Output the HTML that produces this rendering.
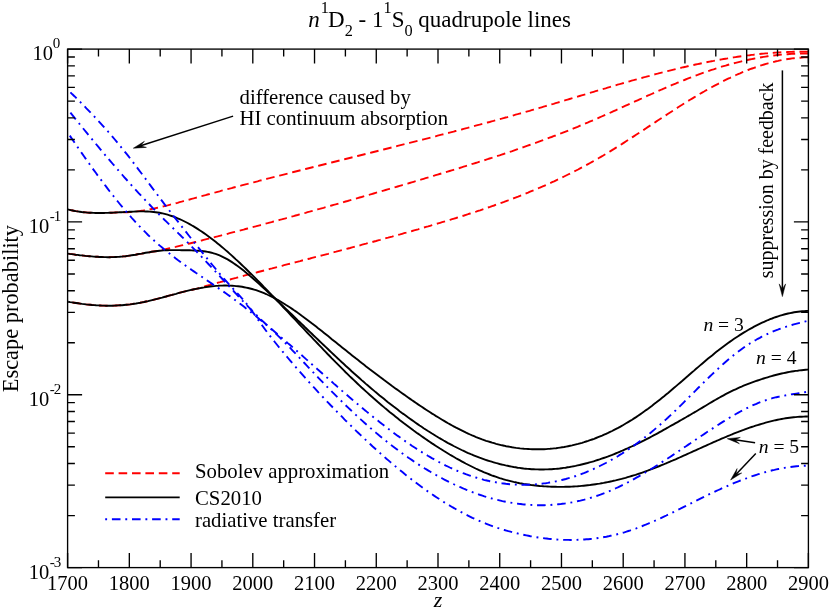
<!DOCTYPE html>
<html><head><meta charset="utf-8"><title>Escape probability</title>
<style>
html,body{margin:0;padding:0;background:#fff;}
body{width:830px;height:611px;overflow:hidden;}
svg{display:block;transform:translateZ(0);will-change:transform;}
text{font-family:"Liberation Serif",serif;fill:#000;}
.i{font-style:italic;}
</style></head><body>
<svg width="830" height="611" viewBox="0 0 830 611">
<rect x="0" y="0" width="830" height="611" fill="#fff"/>
<defs><clipPath id="c"><rect x="67.6" y="49.1" width="741.8" height="518.5"/></clipPath></defs>

<g fill="none" stroke-width="1.9" clip-path="url(#c)">
<path d="M67.6,209.3 L69.6,209.8 L71.6,210.3 L73.6,210.7 L75.6,211.1 L77.6,211.4 L79.6,211.7 L81.6,212.0 L83.6,212.2 L85.6,212.4 L87.6,212.6 L89.6,212.7 L91.6,212.8 L93.6,212.9 L95.6,213.0 L97.6,213.0 L99.6,213.0 L101.6,213.0 L103.6,213.0 L105.6,212.9 L107.6,212.9 L109.6,212.8 L111.6,212.7 L113.6,212.6 L115.6,212.5 L117.6,212.4 L119.6,212.3 L121.6,212.3 L123.6,212.3 L125.6,212.2 L127.6,212.2 L129.6,212.1 L131.6,212.0 L133.6,211.9 L135.6,211.7 L137.6,211.4 L139.6,211.1 L141.6,210.8 L143.6,210.5 L145.6,210.1 L147.6,209.8 L149.6,209.4 L151.6,209.0 L153.6,208.6 L155.6,208.1 L157.6,207.7 L159.6,207.3 L161.6,206.8 L163.6,206.3 L165.6,205.8 L167.6,205.4 L169.6,204.8 L171.6,204.3 L173.6,203.8 L175.6,203.3 L177.6,202.8 L179.6,202.2 L181.6,201.7 L183.6,201.1 L185.6,200.6 L187.6,200.0 L189.6,199.5 L191.6,198.9 L193.6,198.4 L195.6,197.8 L197.6,197.3 L199.6,196.7 L201.6,196.2 L203.6,195.6 L205.6,195.1 L207.6,194.5 L209.6,194.0 L211.6,193.4 L213.6,192.9 L215.6,192.4 L217.6,191.8 L219.6,191.3 L221.6,190.7 L223.6,190.2 L225.6,189.7 L227.6,189.1 L229.6,188.6 L231.6,188.1 L233.6,187.5 L235.6,187.0 L237.6,186.5 L239.6,186.0 L241.6,185.4 L243.6,184.9 L245.6,184.4 L247.6,183.9 L249.6,183.3 L251.6,182.8 L253.6,182.3 L255.6,181.8 L257.6,181.3 L259.6,180.7 L261.6,180.2 L263.6,179.7 L265.6,179.2 L267.6,178.7 L269.6,178.2 L271.6,177.6 L273.6,177.1 L275.6,176.6 L277.6,176.1 L279.6,175.6 L281.6,175.1 L283.6,174.6 L285.6,174.1 L287.6,173.6 L289.6,173.0 L291.6,172.5 L293.6,172.0 L295.6,171.5 L297.6,171.0 L299.6,170.5 L301.6,170.0 L303.6,169.5 L305.6,169.0 L307.6,168.5 L309.6,168.0 L311.6,167.5 L313.6,167.0 L315.6,166.5 L317.6,166.0 L319.6,165.5 L321.6,165.0 L323.6,164.5 L325.6,164.0 L327.6,163.5 L329.6,163.0 L331.6,162.5 L333.6,162.0 L335.6,161.5 L337.6,161.0 L339.6,160.5 L341.6,160.0 L343.6,159.5 L345.6,159.0 L347.6,158.5 L349.6,158.0 L351.6,157.5 L353.6,157.0 L355.6,156.5 L357.6,156.0 L359.6,155.5 L361.6,155.0 L363.6,154.5 L365.6,154.0 L367.6,153.5 L369.6,153.0 L371.6,152.5 L373.6,152.0 L375.6,151.5 L377.6,151.0 L379.6,150.5 L381.6,150.0 L383.6,149.5 L385.6,149.0 L387.6,148.5 L389.6,148.0 L391.6,147.5 L393.6,147.0 L395.6,146.5 L397.6,145.9 L399.6,145.4 L401.6,144.9 L403.6,144.4 L405.6,143.9 L407.6,143.4 L409.6,142.9 L411.6,142.4 L413.6,141.9 L415.6,141.4 L417.6,140.9 L419.6,140.4 L421.6,139.9 L423.6,139.3 L425.6,138.8 L427.6,138.3 L429.6,137.8 L431.6,137.3 L433.6,136.8 L435.6,136.3 L437.6,135.7 L439.6,135.2 L441.6,134.7 L443.6,134.2 L445.6,133.7 L447.6,133.1 L449.6,132.6 L451.6,132.1 L453.6,131.6 L455.6,131.0 L457.6,130.5 L459.6,130.0 L461.6,129.5 L463.6,128.9 L465.6,128.4 L467.6,127.9 L469.6,127.3 L471.6,126.8 L473.6,126.3 L475.6,125.7 L477.6,125.2 L479.6,124.7 L481.6,124.1 L483.6,123.6 L485.6,123.0 L487.6,122.5 L489.6,122.0 L491.6,121.4 L493.6,120.9 L495.6,120.3 L497.6,119.8 L499.6,119.2 L501.6,118.7 L503.6,118.1 L505.6,117.5 L507.6,117.0 L509.6,116.4 L511.6,115.9 L513.6,115.3 L515.6,114.7 L517.6,114.2 L519.6,113.6 L521.6,113.1 L523.6,112.5 L525.6,111.9 L527.6,111.3 L529.6,110.8 L531.6,110.2 L533.6,109.6 L535.6,109.0 L537.6,108.5 L539.6,107.9 L541.6,107.3 L543.6,106.7 L545.6,106.1 L547.6,105.5 L549.6,104.9 L551.6,104.3 L553.6,103.8 L555.6,103.2 L557.6,102.6 L559.6,102.0 L561.6,101.4 L563.6,100.8 L565.6,100.2 L567.6,99.6 L569.6,99.0 L571.6,98.4 L573.6,97.8 L575.6,97.2 L577.6,96.6 L579.6,96.0 L581.6,95.4 L583.6,94.8 L585.6,94.2 L587.6,93.6 L589.6,93.0 L591.6,92.4 L593.6,91.8 L595.6,91.2 L597.6,90.6 L599.6,90.0 L601.6,89.4 L603.6,88.8 L605.6,88.3 L607.6,87.7 L609.6,87.1 L611.6,86.5 L613.6,85.9 L615.6,85.3 L617.6,84.7 L619.6,84.2 L621.6,83.6 L623.6,83.0 L625.6,82.4 L627.6,81.9 L629.6,81.3 L631.6,80.7 L633.6,80.2 L635.6,79.6 L637.6,79.1 L639.6,78.5 L641.6,78.0 L643.6,77.4 L645.6,76.9 L647.6,76.3 L649.6,75.8 L651.6,75.2 L653.6,74.7 L655.6,74.2 L657.6,73.7 L659.6,73.1 L661.6,72.6 L663.6,72.1 L665.6,71.6 L667.6,71.1 L669.6,70.6 L671.6,70.1 L673.6,69.6 L675.6,69.1 L677.6,68.6 L679.6,68.2 L681.6,67.7 L683.6,67.2 L685.6,66.8 L687.6,66.3 L689.6,65.9 L691.6,65.4 L693.6,65.0 L695.6,64.5 L697.6,64.1 L699.6,63.7 L701.6,63.3 L703.6,62.8 L705.6,62.4 L707.6,62.0 L709.6,61.6 L711.6,61.2 L713.6,60.9 L715.6,60.5 L717.6,60.1 L719.6,59.8 L721.6,59.4 L723.6,59.0 L725.6,58.7 L727.6,58.4 L729.6,58.0 L731.6,57.7 L733.6,57.4 L735.6,57.1 L737.6,56.8 L739.6,56.5 L741.6,56.2 L743.6,55.9 L745.6,55.7 L747.6,55.4 L749.6,55.2 L751.6,54.9 L753.6,54.7 L755.6,54.4 L757.6,54.2 L759.6,54.0 L761.6,53.8 L763.6,53.6 L765.6,53.4 L767.6,53.3 L769.6,53.1 L771.6,52.9 L773.6,52.8 L775.6,52.6 L777.6,52.5 L779.6,52.4 L781.6,52.3 L783.6,52.2 L785.6,52.1 L787.6,52.0 L789.6,51.9 L791.6,51.9 L793.6,51.8 L795.6,51.8 L797.6,51.7 L799.6,51.7 L801.6,51.7 L803.6,51.7 L805.6,51.7 L807.6,51.7 L808.4,51.7" stroke="#ff0000" stroke-dasharray="8.6 4.8" stroke-dashoffset="-2.1"/>
<path d="M67.6,253.6 L69.6,253.9 L71.6,254.1 L73.6,254.4 L75.6,254.7 L77.6,254.9 L79.6,255.2 L81.6,255.4 L83.6,255.6 L85.6,255.9 L87.6,256.1 L89.6,256.2 L91.6,256.4 L93.6,256.6 L95.6,256.7 L97.6,256.8 L99.6,257.0 L101.6,257.0 L103.6,257.1 L105.6,257.1 L107.6,257.2 L109.6,257.2 L111.6,257.1 L113.6,257.1 L115.6,257.0 L117.6,256.9 L119.6,256.8 L121.6,256.6 L123.6,256.4 L125.6,256.2 L127.6,255.9 L129.6,255.6 L131.6,255.3 L133.6,255.0 L135.6,254.7 L137.6,254.3 L139.6,253.9 L141.6,253.6 L143.6,253.2 L145.6,252.8 L147.6,252.5 L149.6,252.2 L151.6,251.8 L153.6,251.5 L155.6,251.2 L157.6,250.9 L159.6,250.5 L161.6,250.2 L163.6,249.7 L165.6,249.2 L167.6,248.7 L169.6,248.3 L171.6,247.8 L173.6,247.3 L175.6,246.9 L177.6,246.4 L179.6,245.9 L181.6,245.4 L183.6,245.0 L185.6,244.5 L187.6,244.0 L189.6,243.5 L191.6,243.0 L193.6,242.5 L195.6,242.0 L197.6,241.5 L199.6,241.0 L201.6,240.5 L203.6,239.9 L205.6,239.4 L207.6,238.9 L209.6,238.4 L211.6,237.9 L213.6,237.4 L215.6,236.9 L217.6,236.4 L219.6,235.8 L221.6,235.3 L223.6,234.8 L225.6,234.3 L227.6,233.8 L229.6,233.2 L231.6,232.7 L233.6,232.2 L235.6,231.7 L237.6,231.1 L239.6,230.6 L241.6,230.1 L243.6,229.6 L245.6,229.0 L247.6,228.5 L249.6,228.0 L251.6,227.4 L253.6,226.9 L255.6,226.4 L257.6,225.8 L259.6,225.3 L261.6,224.8 L263.6,224.2 L265.6,223.7 L267.6,223.2 L269.6,222.6 L271.6,222.1 L273.6,221.5 L275.6,221.0 L277.6,220.5 L279.6,219.9 L281.6,219.4 L283.6,218.8 L285.6,218.3 L287.6,217.7 L289.6,217.2 L291.6,216.6 L293.6,216.1 L295.6,215.5 L297.6,215.0 L299.6,214.4 L301.6,213.9 L303.6,213.3 L305.6,212.8 L307.6,212.2 L309.6,211.7 L311.6,211.1 L313.6,210.6 L315.6,210.0 L317.6,209.4 L319.6,208.9 L321.6,208.3 L323.6,207.8 L325.6,207.2 L327.6,206.6 L329.6,206.1 L331.6,205.5 L333.6,204.9 L335.6,204.4 L337.6,203.8 L339.6,203.2 L341.6,202.7 L343.6,202.1 L345.6,201.5 L347.6,201.0 L349.6,200.4 L351.6,199.8 L353.6,199.3 L355.6,198.7 L357.6,198.1 L359.6,197.5 L361.6,197.0 L363.6,196.4 L365.6,195.8 L367.6,195.2 L369.6,194.7 L371.6,194.1 L373.6,193.5 L375.6,192.9 L377.6,192.3 L379.6,191.8 L381.6,191.2 L383.6,190.6 L385.6,190.0 L387.6,189.4 L389.6,188.8 L391.6,188.3 L393.6,187.7 L395.6,187.1 L397.6,186.5 L399.6,185.9 L401.6,185.3 L403.6,184.7 L405.6,184.1 L407.6,183.6 L409.6,183.0 L411.6,182.4 L413.6,181.8 L415.6,181.2 L417.6,180.6 L419.6,180.0 L421.6,179.4 L423.6,178.8 L425.6,178.2 L427.6,177.6 L429.6,177.0 L431.6,176.4 L433.6,175.8 L435.6,175.2 L437.6,174.6 L439.6,174.0 L441.6,173.4 L443.6,172.8 L445.6,172.2 L447.6,171.6 L449.6,171.0 L451.6,170.4 L453.6,169.8 L455.6,169.2 L457.6,168.6 L459.6,168.0 L461.6,167.3 L463.6,166.7 L465.6,166.1 L467.6,165.5 L469.6,164.9 L471.6,164.2 L473.6,163.6 L475.6,163.0 L477.6,162.4 L479.6,161.7 L481.6,161.1 L483.6,160.5 L485.6,159.8 L487.6,159.2 L489.6,158.5 L491.6,157.9 L493.6,157.2 L495.6,156.6 L497.6,155.9 L499.6,155.3 L501.6,154.6 L503.6,154.0 L505.6,153.3 L507.6,152.6 L509.6,151.9 L511.6,151.3 L513.6,150.6 L515.6,149.9 L517.6,149.2 L519.6,148.5 L521.6,147.8 L523.6,147.1 L525.6,146.4 L527.6,145.7 L529.6,145.0 L531.6,144.3 L533.6,143.6 L535.6,142.9 L537.6,142.2 L539.6,141.4 L541.6,140.7 L543.6,140.0 L545.6,139.2 L547.6,138.5 L549.6,137.7 L551.6,137.0 L553.6,136.2 L555.6,135.5 L557.6,134.7 L559.6,133.9 L561.6,133.2 L563.6,132.4 L565.6,131.6 L567.6,130.8 L569.6,130.0 L571.6,129.2 L573.6,128.4 L575.6,127.6 L577.6,126.8 L579.6,125.9 L581.6,125.1 L583.6,124.3 L585.6,123.4 L587.6,122.6 L589.6,121.7 L591.6,120.9 L593.6,120.0 L595.6,119.2 L597.6,118.3 L599.6,117.4 L601.6,116.5 L603.6,115.6 L605.6,114.7 L607.6,113.9 L609.6,113.0 L611.6,112.1 L613.6,111.2 L615.6,110.3 L617.6,109.4 L619.6,108.4 L621.6,107.5 L623.6,106.6 L625.6,105.7 L627.6,104.8 L629.6,103.9 L631.6,103.0 L633.6,102.1 L635.6,101.2 L637.6,100.3 L639.6,99.4 L641.6,98.5 L643.6,97.5 L645.6,96.6 L647.6,95.7 L649.6,94.9 L651.6,94.0 L653.6,93.1 L655.6,92.2 L657.6,91.3 L659.6,90.4 L661.6,89.5 L663.6,88.7 L665.6,87.8 L667.6,86.9 L669.6,86.1 L671.6,85.2 L673.6,84.4 L675.6,83.6 L677.6,82.7 L679.6,81.9 L681.6,81.1 L683.6,80.3 L685.6,79.5 L687.6,78.7 L689.6,77.9 L691.6,77.1 L693.6,76.4 L695.6,75.6 L697.6,74.9 L699.6,74.1 L701.6,73.4 L703.6,72.7 L705.6,72.0 L707.6,71.3 L709.6,70.6 L711.6,69.9 L713.6,69.3 L715.6,68.6 L717.6,68.0 L719.6,67.4 L721.6,66.7 L723.6,66.1 L725.6,65.6 L727.6,65.0 L729.6,64.4 L731.6,63.9 L733.6,63.3 L735.6,62.8 L737.6,62.3 L739.6,61.8 L741.6,61.3 L743.6,60.8 L745.6,60.4 L747.6,60.0 L749.6,59.5 L751.6,59.1 L753.6,58.7 L755.6,58.3 L757.6,57.9 L759.6,57.6 L761.6,57.2 L763.6,56.9 L765.6,56.6 L767.6,56.3 L769.6,56.0 L771.6,55.8 L773.6,55.5 L775.6,55.3 L777.6,55.0 L779.6,54.8 L781.6,54.6 L783.6,54.5 L785.6,54.3 L787.6,54.2 L789.6,54.0 L791.6,53.9 L793.6,53.8 L795.6,53.7 L797.6,53.7 L799.6,53.6 L801.6,53.6 L803.6,53.6 L805.6,53.6 L807.6,53.6 L808.4,53.6" stroke="#ff0000" stroke-dasharray="8.6 4.8" stroke-dashoffset="-1.1"/>
<path d="M68.1,301.7 L70.1,302.1 L72.1,302.4 L74.1,302.7 L76.1,303.0 L78.1,303.3 L80.1,303.6 L82.1,303.9 L84.1,304.1 L86.1,304.4 L88.1,304.6 L90.1,304.8 L92.1,305.0 L94.1,305.1 L96.1,305.3 L98.1,305.4 L100.1,305.5 L102.1,305.6 L104.1,305.6 L106.1,305.7 L108.1,305.7 L110.1,305.7 L112.1,305.7 L114.1,305.6 L116.1,305.5 L118.1,305.4 L120.1,305.3 L122.1,305.2 L124.1,305.0 L126.1,304.8 L128.1,304.6 L130.1,304.4 L132.1,304.1 L134.1,303.8 L136.1,303.5 L138.1,303.1 L140.1,302.8 L142.1,302.4 L144.1,302.0 L146.1,301.5 L148.1,301.1 L150.1,300.6 L152.1,300.1 L154.1,299.6 L156.1,299.1 L158.1,298.6 L160.1,298.1 L162.1,297.6 L164.1,297.0 L166.1,296.5 L168.1,295.9 L170.1,295.4 L172.1,294.9 L174.1,294.3 L176.1,293.8 L178.1,293.2 L180.1,292.7 L182.1,292.2 L184.1,291.7 L186.1,291.2 L188.1,290.7 L190.1,290.2 L192.1,289.7 L194.1,289.3 L196.1,288.8 L198.1,288.3 L200.1,287.8 L202.1,287.2 L204.1,286.6 L206.1,286.0 L208.1,285.4 L210.1,284.9 L212.1,284.3 L214.1,283.8 L216.1,283.2 L218.1,282.7 L220.1,282.2 L222.1,281.6 L224.1,281.1 L226.1,280.5 L228.1,280.0 L230.1,279.5 L232.1,278.9 L234.1,278.4 L236.1,277.9 L238.1,277.3 L240.1,276.8 L242.1,276.3 L244.1,275.7 L246.1,275.2 L248.1,274.7 L250.1,274.1 L252.1,273.6 L254.1,273.1 L256.1,272.6 L258.1,272.0 L260.1,271.5 L262.1,271.0 L264.1,270.5 L266.1,269.9 L268.1,269.4 L270.1,268.9 L272.1,268.4 L274.1,267.8 L276.1,267.3 L278.1,266.8 L280.1,266.3 L282.1,265.8 L284.1,265.2 L286.1,264.7 L288.1,264.2 L290.1,263.7 L292.1,263.2 L294.1,262.6 L296.1,262.1 L298.1,261.6 L300.1,261.1 L302.1,260.5 L304.1,260.0 L306.1,259.5 L308.1,259.0 L310.1,258.5 L312.1,257.9 L314.1,257.4 L316.1,256.9 L318.1,256.4 L320.1,255.9 L322.1,255.3 L324.1,254.8 L326.1,254.3 L328.1,253.8 L330.1,253.2 L332.1,252.7 L334.1,252.2 L336.1,251.7 L338.1,251.1 L340.1,250.6 L342.1,250.1 L344.1,249.5 L346.1,249.0 L348.1,248.5 L350.1,248.0 L352.1,247.4 L354.1,246.9 L356.1,246.4 L358.1,245.8 L360.1,245.3 L362.1,244.7 L364.1,244.2 L366.1,243.7 L368.1,243.1 L370.1,242.6 L372.1,242.1 L374.1,241.5 L376.1,241.0 L378.1,240.4 L380.1,239.9 L382.1,239.3 L384.1,238.8 L386.1,238.2 L388.1,237.7 L390.1,237.1 L392.1,236.6 L394.1,236.0 L396.1,235.5 L398.1,234.9 L400.1,234.4 L402.1,233.8 L404.1,233.2 L406.1,232.7 L408.1,232.1 L410.1,231.5 L412.1,231.0 L414.1,230.4 L416.1,229.8 L418.1,229.3 L420.1,228.7 L422.1,228.1 L424.1,227.5 L426.1,226.9 L428.1,226.4 L430.1,225.8 L432.1,225.2 L434.1,224.6 L436.1,224.0 L438.1,223.4 L440.1,222.8 L442.1,222.2 L444.1,221.6 L446.1,221.0 L448.1,220.4 L450.1,219.8 L452.1,219.2 L454.1,218.6 L456.1,218.0 L458.1,217.3 L460.1,216.7 L462.1,216.1 L464.1,215.5 L466.1,214.8 L468.1,214.2 L470.1,213.5 L472.1,212.9 L474.1,212.2 L476.1,211.6 L478.1,210.9 L480.1,210.3 L482.1,209.6 L484.1,208.9 L486.1,208.2 L488.1,207.5 L490.1,206.9 L492.1,206.2 L494.1,205.5 L496.1,204.7 L498.1,204.0 L500.1,203.3 L502.1,202.6 L504.1,201.9 L506.1,201.1 L508.1,200.4 L510.1,199.6 L512.1,198.9 L514.1,198.1 L516.1,197.3 L518.1,196.6 L520.1,195.8 L522.1,195.0 L524.1,194.2 L526.1,193.4 L528.1,192.6 L530.1,191.7 L532.1,190.9 L534.1,190.1 L536.1,189.2 L538.1,188.4 L540.1,187.5 L542.1,186.7 L544.1,185.8 L546.1,184.9 L548.1,184.0 L550.1,183.1 L552.1,182.2 L554.1,181.3 L556.1,180.3 L558.1,179.4 L560.1,178.4 L562.1,177.5 L564.1,176.5 L566.1,175.5 L568.1,174.5 L570.1,173.5 L572.1,172.5 L574.1,171.5 L576.1,170.5 L578.1,169.5 L580.1,168.4 L582.1,167.4 L584.1,166.3 L586.1,165.2 L588.1,164.1 L590.1,163.0 L592.1,161.9 L594.1,160.8 L596.1,159.6 L598.1,158.5 L600.1,157.3 L602.1,156.2 L604.1,155.0 L606.1,153.8 L608.1,152.6 L610.1,151.4 L612.1,150.1 L614.1,148.9 L616.1,147.6 L618.1,146.4 L620.1,145.1 L622.1,143.9 L624.1,142.6 L626.1,141.3 L628.1,140.0 L630.1,138.7 L632.1,137.4 L634.1,136.1 L636.1,134.8 L638.1,133.5 L640.1,132.2 L642.1,130.9 L644.1,129.6 L646.1,128.2 L648.1,126.9 L650.1,125.6 L652.1,124.3 L654.1,123.0 L656.1,121.6 L658.1,120.3 L660.1,119.0 L662.1,117.7 L664.1,116.4 L666.1,115.1 L668.1,113.8 L670.1,112.5 L672.1,111.2 L674.1,109.9 L676.1,108.6 L678.1,107.3 L680.1,106.0 L682.1,104.8 L684.1,103.5 L686.1,102.3 L688.1,101.0 L690.1,99.8 L692.1,98.6 L694.1,97.4 L696.1,96.2 L698.1,95.0 L700.1,93.8 L702.1,92.6 L704.1,91.5 L706.1,90.3 L708.1,89.2 L710.1,88.1 L712.1,87.0 L714.1,85.9 L716.1,84.8 L718.1,83.8 L720.1,82.7 L722.1,81.7 L724.1,80.7 L726.1,79.7 L728.1,78.7 L730.1,77.8 L732.1,76.8 L734.1,75.9 L736.1,75.0 L738.1,74.1 L740.1,73.3 L742.1,72.4 L744.1,71.6 L746.1,70.8 L748.1,70.0 L750.1,69.2 L752.1,68.5 L754.1,67.8 L756.1,67.1 L758.1,66.4 L760.1,65.7 L762.1,65.1 L764.1,64.5 L766.1,63.9 L768.1,63.3 L770.1,62.8 L772.1,62.3 L774.1,61.8 L776.1,61.3 L778.1,60.9 L780.1,60.4 L782.1,60.0 L784.1,59.7 L786.1,59.3 L788.1,59.0 L790.1,58.7 L792.1,58.4 L794.1,58.2 L796.1,58.0 L798.1,57.8 L800.1,57.7 L802.1,57.5 L804.1,57.4 L806.1,57.4 L808.1,57.3 L808.4,57.3" stroke="#ff0000" stroke-dasharray="8.6 4.8" stroke-dashoffset="-4.4"/>
<path d="M67.6,209.3 L69.6,209.8 L71.6,210.3 L73.6,210.7 L75.6,211.1 L77.6,211.4 L79.6,211.7 L81.6,212.0 L83.6,212.2 L85.6,212.4 L87.6,212.6 L89.6,212.7 L91.6,212.8 L93.6,212.9 L95.6,213.0 L97.6,213.0 L99.6,213.0 L101.6,213.0 L103.6,213.0 L105.6,212.9 L107.6,212.9 L109.6,212.8 L111.6,212.7 L113.6,212.6 L115.6,212.5 L117.6,212.4 L119.6,212.3 L121.6,212.2 L123.6,212.1 L125.6,212.0 L127.6,211.9 L129.6,211.8 L131.6,211.7 L133.6,211.6 L135.6,211.5 L137.6,211.4 L139.6,211.4 L141.6,211.4 L143.6,211.4 L145.6,211.5 L147.6,211.5 L149.6,211.6 L151.6,211.8 L153.6,212.0 L155.6,212.2 L157.6,212.5 L159.6,212.8 L161.6,213.2 L163.6,213.7 L165.6,214.2 L167.6,214.7 L169.6,215.3 L171.6,216.0 L173.6,216.7 L175.6,217.5 L177.6,218.3 L179.6,219.1 L181.6,220.0 L183.6,221.0 L185.6,222.0 L187.6,223.0 L189.6,224.1 L191.6,225.3 L193.6,226.4 L195.6,227.6 L197.6,228.9 L199.6,230.2 L201.6,231.5 L203.6,232.9 L205.6,234.3 L207.6,235.7 L209.6,237.2 L211.6,238.7 L213.6,240.2 L215.6,241.8 L217.6,243.4 L219.6,245.0 L221.6,246.7 L223.6,248.4 L225.6,250.1 L227.6,251.8 L229.6,253.6 L231.6,255.4 L233.6,257.2 L235.6,259.1 L237.6,260.9 L239.6,262.8 L241.6,264.7 L243.6,266.6 L245.6,268.5 L247.6,270.5 L249.6,272.5 L251.6,274.4 L253.6,276.4 L255.6,278.4 L257.6,280.5 L259.6,282.5 L261.6,284.5 L263.6,286.6 L265.6,288.6 L267.6,290.7 L269.6,292.8 L271.6,294.9 L273.6,296.9 L275.6,299.0 L277.6,301.1 L279.6,303.2 L281.6,305.4 L283.6,307.5 L285.6,309.6 L287.6,311.7 L289.6,313.8 L291.6,316.0 L293.6,318.1 L295.6,320.2 L297.6,322.4 L299.6,324.5 L301.6,326.6 L303.6,328.7 L305.6,330.9 L307.6,333.0 L309.6,335.1 L311.6,337.2 L313.6,339.3 L315.6,341.4 L317.6,343.5 L319.6,345.6 L321.6,347.7 L323.6,349.8 L325.6,351.9 L327.6,354.0 L329.6,356.0 L331.6,358.1 L333.6,360.1 L335.6,362.2 L337.6,364.2 L339.6,366.2 L341.6,368.2 L343.6,370.2 L345.6,372.2 L347.6,374.1 L349.6,376.1 L351.6,378.0 L353.6,379.9 L355.6,381.8 L357.6,383.7 L359.6,385.6 L361.6,387.5 L363.6,389.3 L365.6,391.1 L367.6,392.9 L369.6,394.7 L371.6,396.5 L373.6,398.3 L375.6,400.0 L377.6,401.8 L379.6,403.5 L381.6,405.2 L383.6,406.9 L385.6,408.6 L387.6,410.2 L389.6,411.9 L391.6,413.5 L393.6,415.1 L395.6,416.7 L397.6,418.3 L399.6,419.9 L401.6,421.4 L403.6,423.0 L405.6,424.5 L407.6,426.0 L409.6,427.5 L411.6,429.0 L413.6,430.5 L415.6,431.9 L417.6,433.4 L419.6,434.8 L421.6,436.2 L423.6,437.6 L425.6,439.0 L427.6,440.4 L429.6,441.7 L431.6,443.1 L433.6,444.4 L435.6,445.7 L437.6,447.0 L439.6,448.3 L441.6,449.5 L443.6,450.8 L445.6,452.0 L447.6,453.2 L449.6,454.5 L451.6,455.6 L453.6,456.8 L455.6,458.0 L457.6,459.1 L459.6,460.2 L461.6,461.3 L463.6,462.4 L465.6,463.5 L467.6,464.5 L469.6,465.5 L471.6,466.5 L473.6,467.5 L475.6,468.5 L477.6,469.4 L479.6,470.3 L481.6,471.2 L483.6,472.1 L485.6,472.9 L487.6,473.7 L489.6,474.5 L491.6,475.3 L493.6,476.0 L495.6,476.7 L497.6,477.4 L499.6,478.1 L501.6,478.7 L503.6,479.3 L505.6,479.9 L507.6,480.4 L509.6,480.9 L511.6,481.4 L513.6,481.9 L515.6,482.3 L517.6,482.8 L519.6,483.2 L521.6,483.5 L523.6,483.9 L525.6,484.2 L527.6,484.5 L529.6,484.8 L531.6,485.1 L533.6,485.3 L535.6,485.6 L537.6,485.8 L539.6,486.0 L541.6,486.1 L543.6,486.3 L545.6,486.4 L547.6,486.5 L549.6,486.6 L551.6,486.7 L553.6,486.8 L555.6,486.8 L557.6,486.9 L559.6,486.9 L561.6,486.9 L563.6,486.9 L565.6,486.8 L567.6,486.8 L569.6,486.7 L571.6,486.6 L573.6,486.5 L575.6,486.4 L577.6,486.3 L579.6,486.1 L581.6,485.9 L583.6,485.7 L585.6,485.5 L587.6,485.3 L589.6,485.1 L591.6,484.8 L593.6,484.5 L595.6,484.2 L597.6,483.9 L599.6,483.6 L601.6,483.2 L603.6,482.9 L605.6,482.5 L607.6,482.1 L609.6,481.7 L611.6,481.3 L613.6,480.8 L615.6,480.4 L617.6,479.9 L619.6,479.4 L621.6,478.9 L623.6,478.3 L625.6,477.8 L627.6,477.2 L629.6,476.6 L631.6,476.0 L633.6,475.4 L635.6,474.8 L637.6,474.1 L639.6,473.5 L641.6,472.8 L643.6,472.1 L645.6,471.4 L647.6,470.7 L649.6,469.9 L651.6,469.2 L653.6,468.4 L655.6,467.6 L657.6,466.8 L659.6,466.0 L661.6,465.2 L663.6,464.4 L665.6,463.5 L667.6,462.7 L669.6,461.8 L671.6,461.0 L673.6,460.1 L675.6,459.3 L677.6,458.4 L679.6,457.5 L681.6,456.6 L683.6,455.7 L685.6,454.8 L687.6,453.9 L689.6,453.0 L691.6,452.1 L693.6,451.2 L695.6,450.3 L697.6,449.4 L699.6,448.5 L701.6,447.6 L703.6,446.7 L705.6,445.8 L707.6,444.9 L709.6,444.0 L711.6,443.1 L713.6,442.2 L715.6,441.3 L717.6,440.5 L719.6,439.6 L721.6,438.7 L723.6,437.9 L725.6,437.0 L727.6,436.2 L729.6,435.4 L731.6,434.5 L733.6,433.7 L735.6,432.9 L737.6,432.2 L739.6,431.4 L741.6,430.6 L743.6,429.9 L745.6,429.1 L747.6,428.4 L749.6,427.7 L751.6,427.0 L753.6,426.4 L755.6,425.7 L757.6,425.1 L759.6,424.5 L761.6,423.9 L763.6,423.3 L765.6,422.7 L767.6,422.2 L769.6,421.7 L771.6,421.2 L773.6,420.7 L775.6,420.2 L777.6,419.8 L779.6,419.4 L781.6,419.0 L783.6,418.6 L785.6,418.3 L787.6,418.0 L789.6,417.7 L791.6,417.5 L793.6,417.3 L795.6,417.1 L797.6,416.9 L799.6,416.8 L801.6,416.7 L803.6,416.6 L805.6,416.5 L807.6,416.5 L807.9,416.5" stroke="#000"/>
<path d="M67.6,253.6 L69.6,253.9 L71.6,254.1 L73.6,254.4 L75.6,254.7 L77.6,254.9 L79.6,255.2 L81.6,255.4 L83.6,255.6 L85.6,255.9 L87.6,256.1 L89.6,256.2 L91.6,256.4 L93.6,256.6 L95.6,256.7 L97.6,256.8 L99.6,257.0 L101.6,257.0 L103.6,257.1 L105.6,257.1 L107.6,257.2 L109.6,257.2 L111.6,257.1 L113.6,257.1 L115.6,257.0 L117.6,256.9 L119.6,256.8 L121.6,256.6 L123.6,256.4 L125.6,256.2 L127.6,255.9 L129.6,255.6 L131.6,255.3 L133.6,255.0 L135.6,254.7 L137.6,254.3 L139.6,253.9 L141.6,253.6 L143.6,253.2 L145.6,252.8 L147.6,252.5 L149.6,252.2 L151.6,251.8 L153.6,251.5 L155.6,251.2 L157.6,251.0 L159.6,250.8 L161.6,250.6 L163.6,250.4 L165.6,250.3 L167.6,250.2 L169.6,250.1 L171.6,250.1 L173.6,250.1 L175.6,250.1 L177.6,250.1 L179.6,250.1 L181.6,250.2 L183.6,250.2 L185.6,250.3 L187.6,250.3 L189.6,250.3 L191.6,250.4 L193.6,250.5 L195.6,250.6 L197.6,250.7 L199.6,250.8 L201.6,251.0 L203.6,251.2 L205.6,251.5 L207.6,251.9 L209.6,252.3 L211.6,252.7 L213.6,253.3 L215.6,253.9 L217.6,254.6 L219.6,255.4 L221.6,256.3 L223.6,257.3 L225.6,258.3 L227.6,259.4 L229.6,260.6 L231.6,261.9 L233.6,263.2 L235.6,264.6 L237.6,266.0 L239.6,267.5 L241.6,269.0 L243.6,270.6 L245.6,272.2 L247.6,273.9 L249.6,275.6 L251.6,277.3 L253.6,279.0 L255.6,280.8 L257.6,282.6 L259.6,284.4 L261.6,286.2 L263.6,288.0 L265.6,289.9 L267.6,291.7 L269.6,293.5 L271.6,295.4 L273.6,297.3 L275.6,299.1 L277.6,301.0 L279.6,302.9 L281.6,304.8 L283.6,306.7 L285.6,308.6 L287.6,310.5 L289.6,312.4 L291.6,314.3 L293.6,316.2 L295.6,318.1 L297.6,320.1 L299.6,322.0 L301.6,323.9 L303.6,325.8 L305.6,327.8 L307.6,329.7 L309.6,331.6 L311.6,333.5 L313.6,335.5 L315.6,337.4 L317.6,339.3 L319.6,341.2 L321.6,343.1 L323.6,345.0 L325.6,346.9 L327.6,348.8 L329.6,350.7 L331.6,352.6 L333.6,354.5 L335.6,356.4 L337.6,358.3 L339.6,360.1 L341.6,362.0 L343.6,363.8 L345.6,365.7 L347.6,367.5 L349.6,369.3 L351.6,371.2 L353.6,373.0 L355.6,374.7 L357.6,376.5 L359.6,378.3 L361.6,380.1 L363.6,381.8 L365.6,383.6 L367.6,385.3 L369.6,387.0 L371.6,388.7 L373.6,390.4 L375.6,392.1 L377.6,393.7 L379.6,395.4 L381.6,397.0 L383.6,398.6 L385.6,400.3 L387.6,401.9 L389.6,403.4 L391.6,405.0 L393.6,406.6 L395.6,408.1 L397.6,409.6 L399.6,411.2 L401.6,412.7 L403.6,414.1 L405.6,415.6 L407.6,417.1 L409.6,418.5 L411.6,419.9 L413.6,421.3 L415.6,422.7 L417.6,424.1 L419.6,425.5 L421.6,426.8 L423.6,428.2 L425.6,429.5 L427.6,430.8 L429.6,432.0 L431.6,433.3 L433.6,434.5 L435.6,435.8 L437.6,437.0 L439.6,438.2 L441.6,439.3 L443.6,440.5 L445.6,441.6 L447.6,442.8 L449.6,443.8 L451.6,444.9 L453.6,446.0 L455.6,447.0 L457.6,448.0 L459.6,449.0 L461.6,450.0 L463.6,450.9 L465.6,451.9 L467.6,452.8 L469.6,453.6 L471.6,454.5 L473.6,455.3 L475.6,456.1 L477.6,456.9 L479.6,457.7 L481.6,458.4 L483.6,459.1 L485.6,459.8 L487.6,460.5 L489.6,461.1 L491.6,461.7 L493.6,462.3 L495.6,462.9 L497.6,463.4 L499.6,464.0 L501.6,464.5 L503.6,464.9 L505.6,465.4 L507.6,465.8 L509.6,466.2 L511.6,466.6 L513.6,467.0 L515.6,467.3 L517.6,467.7 L519.6,467.9 L521.6,468.2 L523.6,468.5 L525.6,468.7 L527.6,468.9 L529.6,469.0 L531.6,469.2 L533.6,469.3 L535.6,469.4 L537.6,469.4 L539.6,469.5 L541.6,469.5 L543.6,469.5 L545.6,469.4 L547.6,469.4 L549.6,469.3 L551.6,469.2 L553.6,469.0 L555.6,468.9 L557.6,468.7 L559.6,468.5 L561.6,468.2 L563.6,467.9 L565.6,467.7 L567.6,467.3 L569.6,467.0 L571.6,466.6 L573.6,466.3 L575.6,465.9 L577.6,465.4 L579.6,465.0 L581.6,464.5 L583.6,464.0 L585.6,463.5 L587.6,463.0 L589.6,462.4 L591.6,461.9 L593.6,461.3 L595.6,460.6 L597.6,460.0 L599.6,459.4 L601.6,458.7 L603.6,458.0 L605.6,457.3 L607.6,456.6 L609.6,455.8 L611.6,455.1 L613.6,454.3 L615.6,453.5 L617.6,452.7 L619.6,451.8 L621.6,451.0 L623.6,450.1 L625.6,449.2 L627.6,448.4 L629.6,447.4 L631.6,446.5 L633.6,445.6 L635.6,444.6 L637.6,443.7 L639.6,442.7 L641.6,441.7 L643.6,440.7 L645.6,439.6 L647.6,438.6 L649.6,437.6 L651.6,436.5 L653.6,435.4 L655.6,434.4 L657.6,433.3 L659.6,432.2 L661.6,431.1 L663.6,429.9 L665.6,428.8 L667.6,427.7 L669.6,426.5 L671.6,425.4 L673.6,424.3 L675.6,423.2 L677.6,422.1 L679.6,420.9 L681.6,419.8 L683.6,418.6 L685.6,417.5 L687.6,416.3 L689.6,415.2 L691.6,414.0 L693.6,412.8 L695.6,411.7 L697.6,410.5 L699.6,409.3 L701.6,408.1 L703.6,406.9 L705.6,405.7 L707.6,404.5 L709.6,403.3 L711.6,402.1 L713.6,400.9 L715.6,399.8 L717.6,398.6 L719.6,397.5 L721.6,396.4 L723.6,395.3 L725.6,394.2 L727.6,393.2 L729.6,392.2 L731.6,391.2 L733.6,390.2 L735.6,389.3 L737.6,388.3 L739.6,387.4 L741.6,386.6 L743.6,385.7 L745.6,384.9 L747.6,384.1 L749.6,383.3 L751.6,382.6 L753.6,381.9 L755.6,381.2 L757.6,380.5 L759.6,379.8 L761.6,379.2 L763.6,378.5 L765.6,377.9 L767.6,377.3 L769.6,376.7 L771.6,376.1 L773.6,375.5 L775.6,375.0 L777.6,374.5 L779.6,374.0 L781.6,373.5 L783.6,373.1 L785.6,372.7 L787.6,372.3 L789.6,371.9 L791.6,371.5 L793.6,371.2 L795.6,370.9 L797.6,370.7 L799.6,370.4 L801.6,370.2 L803.6,370.0 L805.6,369.8 L807.6,369.6 L808.2,369.5" stroke="#000"/>
<path d="M68.1,301.7 L70.1,302.1 L72.1,302.4 L74.1,302.7 L76.1,303.0 L78.1,303.3 L80.1,303.6 L82.1,303.9 L84.1,304.1 L86.1,304.4 L88.1,304.6 L90.1,304.8 L92.1,305.0 L94.1,305.1 L96.1,305.3 L98.1,305.4 L100.1,305.5 L102.1,305.6 L104.1,305.6 L106.1,305.7 L108.1,305.7 L110.1,305.7 L112.1,305.7 L114.1,305.6 L116.1,305.5 L118.1,305.4 L120.1,305.3 L122.1,305.2 L124.1,305.0 L126.1,304.8 L128.1,304.6 L130.1,304.4 L132.1,304.1 L134.1,303.8 L136.1,303.5 L138.1,303.1 L140.1,302.8 L142.1,302.4 L144.1,302.0 L146.1,301.5 L148.1,301.1 L150.1,300.6 L152.1,300.1 L154.1,299.6 L156.1,299.1 L158.1,298.6 L160.1,298.1 L162.1,297.6 L164.1,297.0 L166.1,296.5 L168.1,295.9 L170.1,295.4 L172.1,294.9 L174.1,294.3 L176.1,293.8 L178.1,293.2 L180.1,292.7 L182.1,292.2 L184.1,291.7 L186.1,291.2 L188.1,290.7 L190.1,290.2 L192.1,289.7 L194.1,289.3 L196.1,288.9 L198.1,288.5 L200.1,288.1 L202.1,287.7 L204.1,287.4 L206.1,287.0 L208.1,286.8 L210.1,286.5 L212.1,286.3 L214.1,286.1 L216.1,285.9 L218.1,285.8 L220.1,285.6 L222.1,285.6 L224.1,285.5 L226.1,285.5 L228.1,285.6 L230.1,285.6 L232.1,285.7 L234.1,285.9 L236.1,286.1 L238.1,286.3 L240.1,286.5 L242.1,286.8 L244.1,287.2 L246.1,287.6 L248.1,288.0 L250.1,288.5 L252.1,289.0 L254.1,289.6 L256.1,290.2 L258.1,290.9 L260.1,291.6 L262.1,292.4 L264.1,293.2 L266.1,294.0 L268.1,295.0 L270.1,295.9 L272.1,296.9 L274.1,297.9 L276.1,299.0 L278.1,300.1 L280.1,301.3 L282.1,302.5 L284.1,303.7 L286.1,305.0 L288.1,306.2 L290.1,307.5 L292.1,308.9 L294.1,310.3 L296.1,311.6 L298.1,313.1 L300.1,314.5 L302.1,316.0 L304.1,317.4 L306.1,318.9 L308.1,320.4 L310.1,321.9 L312.1,323.5 L314.1,325.0 L316.1,326.6 L318.1,328.2 L320.1,329.7 L322.1,331.3 L324.1,332.9 L326.1,334.5 L328.1,336.1 L330.1,337.7 L332.1,339.4 L334.1,341.0 L336.1,342.6 L338.1,344.2 L340.1,345.8 L342.1,347.4 L344.1,349.0 L346.1,350.6 L348.1,352.2 L350.1,353.8 L352.1,355.4 L354.1,357.0 L356.1,358.6 L358.1,360.1 L360.1,361.7 L362.1,363.3 L364.1,364.8 L366.1,366.4 L368.1,367.9 L370.1,369.5 L372.1,371.0 L374.1,372.5 L376.1,374.0 L378.1,375.5 L380.1,377.1 L382.1,378.6 L384.1,380.1 L386.1,381.5 L388.1,383.0 L390.1,384.5 L392.1,386.0 L394.1,387.4 L396.1,388.9 L398.1,390.3 L400.1,391.8 L402.1,393.2 L404.1,394.6 L406.1,396.1 L408.1,397.5 L410.1,398.9 L412.1,400.3 L414.1,401.6 L416.1,403.0 L418.1,404.4 L420.1,405.7 L422.1,407.0 L424.1,408.4 L426.1,409.7 L428.1,411.0 L430.1,412.3 L432.1,413.6 L434.1,414.8 L436.1,416.1 L438.1,417.3 L440.1,418.5 L442.1,419.7 L444.1,420.9 L446.1,422.1 L448.1,423.3 L450.1,424.4 L452.1,425.5 L454.1,426.6 L456.1,427.7 L458.1,428.7 L460.1,429.7 L462.1,430.7 L464.1,431.7 L466.1,432.7 L468.1,433.6 L470.1,434.5 L472.1,435.4 L474.1,436.2 L476.1,437.1 L478.1,437.8 L480.1,438.6 L482.1,439.4 L484.1,440.1 L486.1,440.8 L488.1,441.4 L490.1,442.0 L492.1,442.7 L494.1,443.2 L496.1,443.8 L498.1,444.3 L500.1,444.8 L502.1,445.3 L504.1,445.7 L506.1,446.2 L508.1,446.5 L510.1,446.9 L512.1,447.3 L514.1,447.6 L516.1,447.9 L518.1,448.1 L520.1,448.4 L522.1,448.6 L524.1,448.8 L526.1,448.9 L528.1,449.0 L530.1,449.1 L532.1,449.2 L534.1,449.3 L536.1,449.3 L538.1,449.3 L540.1,449.3 L542.1,449.2 L544.1,449.2 L546.1,449.1 L548.1,448.9 L550.1,448.8 L552.1,448.6 L554.1,448.4 L556.1,448.2 L558.1,447.9 L560.1,447.6 L562.1,447.3 L564.1,447.0 L566.1,446.6 L568.1,446.2 L570.1,445.8 L572.1,445.4 L574.1,444.9 L576.1,444.4 L578.1,443.9 L580.1,443.3 L582.1,442.8 L584.1,442.2 L586.1,441.5 L588.1,440.9 L590.1,440.2 L592.1,439.5 L594.1,438.8 L596.1,438.0 L598.1,437.2 L600.1,436.4 L602.1,435.6 L604.1,434.7 L606.1,433.8 L608.1,432.9 L610.1,431.9 L612.1,431.0 L614.1,429.9 L616.1,428.9 L618.1,427.9 L620.1,426.8 L622.1,425.7 L624.1,424.5 L626.1,423.3 L628.1,422.1 L630.1,420.9 L632.1,419.7 L634.1,418.4 L636.1,417.1 L638.1,415.7 L640.1,414.4 L642.1,413.0 L644.1,411.6 L646.1,410.1 L648.1,408.7 L650.1,407.2 L652.1,405.7 L654.1,404.1 L656.1,402.6 L658.1,401.0 L660.1,399.4 L662.1,397.8 L664.1,396.2 L666.1,394.5 L668.1,392.9 L670.1,391.2 L672.1,389.5 L674.1,387.8 L676.1,386.1 L678.1,384.4 L680.1,382.7 L682.1,381.0 L684.1,379.2 L686.1,377.5 L688.1,375.8 L690.1,374.0 L692.1,372.3 L694.1,370.6 L696.1,368.8 L698.1,367.1 L700.1,365.4 L702.1,363.7 L704.1,362.0 L706.1,360.3 L708.1,358.6 L710.1,357.0 L712.1,355.4 L714.1,353.7 L716.1,352.1 L718.1,350.6 L720.1,349.0 L722.1,347.5 L724.1,346.0 L726.1,344.5 L728.1,343.0 L730.1,341.6 L732.1,340.2 L734.1,338.8 L736.1,337.5 L738.1,336.2 L740.1,334.9 L742.1,333.6 L744.1,332.4 L746.1,331.2 L748.1,330.0 L750.1,328.9 L752.1,327.8 L754.1,326.7 L756.1,325.6 L758.1,324.6 L760.1,323.6 L762.1,322.7 L764.1,321.8 L766.1,320.9 L768.1,320.0 L770.1,319.2 L772.1,318.5 L774.1,317.7 L776.1,317.0 L778.1,316.3 L780.1,315.7 L782.1,315.1 L784.1,314.5 L786.1,314.0 L788.1,313.5 L790.1,313.1 L792.1,312.7 L794.1,312.3 L796.1,312.0 L798.1,311.7 L800.1,311.5 L802.1,311.3 L804.1,311.1 L806.1,311.0 L808.1,310.9 L808.2,310.9" stroke="#000"/>
<path d="M70.4,92.3 L72.4,94.3 L74.4,96.2 L76.4,98.2 L78.4,100.2 L80.4,102.2 L82.4,104.2 L84.4,106.2 L86.4,108.3 L88.4,110.3 L90.4,112.4 L92.4,114.5 L94.4,116.6 L96.4,118.7 L98.4,120.9 L100.4,123.1 L102.4,125.3 L104.4,127.5 L106.4,129.7 L108.4,132.0 L110.4,134.3 L112.4,136.6 L114.4,139.0 L116.4,141.4 L118.4,143.8 L120.4,146.2 L122.4,148.7 L124.4,151.2 L126.4,153.7 L128.4,156.2 L130.4,158.8 L132.4,161.4 L134.4,164.0 L136.4,166.7 L138.4,169.3 L140.4,172.0 L142.4,174.6 L144.4,177.3 L146.4,180.0 L148.4,182.7 L150.4,185.4 L152.4,188.1 L154.4,190.8 L156.4,193.4 L158.4,196.1 L160.4,198.8 L162.4,201.4 L164.4,204.1 L166.4,206.7 L168.4,209.3 L170.4,211.9 L172.4,214.5 L174.4,217.1 L176.4,219.7 L178.4,222.2 L180.4,224.8 L182.4,227.3 L184.4,229.9 L186.4,232.4 L188.4,235.0 L190.4,237.5 L192.4,240.0 L194.4,242.6 L196.4,245.1 L198.4,247.6 L200.4,250.1 L202.4,252.6 L204.4,255.1 L206.4,257.6 L208.4,260.1 L210.4,262.6 L212.4,265.0 L214.4,267.4 L216.4,269.8 L218.4,272.2 L220.4,274.6 L222.4,276.9 L224.4,279.2 L226.4,281.4 L228.4,283.7 L230.4,285.8 L232.4,288.0 L234.4,290.1 L236.4,292.3 L238.4,294.4 L240.4,296.6 L242.4,298.9 L244.4,301.2 L246.4,303.7 L248.4,306.2 L250.4,308.9 L252.4,311.6 L254.4,314.4 L256.4,317.3 L258.4,320.2 L260.4,323.0 L262.4,325.8 L264.4,328.5 L266.4,331.2 L268.4,333.8 L270.4,336.4 L272.4,339.0 L274.4,341.5 L276.4,344.0 L278.4,346.5 L280.4,348.9 L282.4,351.3 L284.4,353.7 L286.4,356.1 L288.4,358.5 L290.4,360.9 L292.4,363.2 L294.4,365.5 L296.4,367.8 L298.4,370.1 L300.4,372.4 L302.4,374.7 L304.4,376.9 L306.4,379.1 L308.4,381.4 L310.4,383.6 L312.4,385.8 L314.4,387.9 L316.4,390.1 L318.4,392.3 L320.4,394.4 L322.4,396.5 L324.4,398.7 L326.4,400.8 L328.4,402.9 L330.4,405.0 L332.4,407.0 L334.4,409.1 L336.4,411.1 L338.4,413.2 L340.4,415.2 L342.4,417.2 L344.4,419.3 L346.4,421.3 L348.4,423.2 L350.4,425.2 L352.4,427.2 L354.4,429.1 L356.4,431.1 L358.4,433.0 L360.4,434.9 L362.4,436.8 L364.4,438.7 L366.4,440.6 L368.4,442.5 L370.4,444.3 L372.4,446.2 L374.4,448.0 L376.4,449.8 L378.4,451.6 L380.4,453.4 L382.4,455.2 L384.4,456.9 L386.4,458.7 L388.4,460.4 L390.4,462.1 L392.4,463.9 L394.4,465.5 L396.4,467.2 L398.4,468.9 L400.4,470.5 L402.4,472.1 L404.4,473.8 L406.4,475.4 L408.4,476.9 L410.4,478.5 L412.4,480.0 L414.4,481.6 L416.4,483.1 L418.4,484.6 L420.4,486.1 L422.4,487.5 L424.4,489.0 L426.4,490.4 L428.4,491.8 L430.4,493.2 L432.4,494.5 L434.4,495.9 L436.4,497.2 L438.4,498.5 L440.4,499.8 L442.4,501.1 L444.4,502.4 L446.4,503.6 L448.4,504.8 L450.4,506.0 L452.4,507.2 L454.4,508.3 L456.4,509.5 L458.4,510.6 L460.4,511.7 L462.4,512.7 L464.4,513.8 L466.4,514.8 L468.4,515.8 L470.4,516.8 L472.4,517.8 L474.4,518.7 L476.4,519.6 L478.4,520.5 L480.4,521.4 L482.4,522.2 L484.4,523.0 L486.4,523.8 L488.4,524.6 L490.4,525.4 L492.4,526.1 L494.4,526.8 L496.4,527.5 L498.4,528.2 L500.4,528.8 L502.4,529.4 L504.4,530.0 L506.4,530.6 L508.4,531.2 L510.4,531.7 L512.4,532.2 L514.4,532.7 L516.4,533.2 L518.4,533.7 L520.4,534.2 L522.4,534.6 L524.4,535.0 L526.4,535.4 L528.4,535.8 L530.4,536.2 L532.4,536.5 L534.4,536.9 L536.4,537.2 L538.4,537.5 L540.4,537.8 L542.4,538.0 L544.4,538.3 L546.4,538.5 L548.4,538.8 L550.4,539.0 L552.4,539.1 L554.4,539.3 L556.4,539.5 L558.4,539.6 L560.4,539.7 L562.4,539.8 L564.4,539.9 L566.4,539.9 L568.4,539.9 L570.4,540.0 L572.4,540.0 L574.4,539.9 L576.4,539.9 L578.4,539.8 L580.4,539.7 L582.4,539.6 L584.4,539.5 L586.4,539.3 L588.4,539.2 L590.4,539.0 L592.4,538.8 L594.4,538.5 L596.4,538.3 L598.4,538.0 L600.4,537.7 L602.4,537.4 L604.4,537.0 L606.4,536.7 L608.4,536.3 L610.4,535.8 L612.4,535.4 L614.4,534.9 L616.4,534.5 L618.4,533.9 L620.4,533.4 L622.4,532.8 L624.4,532.3 L626.4,531.7 L628.4,531.0 L630.4,530.4 L632.4,529.7 L634.4,529.0 L636.4,528.3 L638.4,527.5 L640.4,526.8 L642.4,526.0 L644.4,525.2 L646.4,524.4 L648.4,523.5 L650.4,522.7 L652.4,521.8 L654.4,521.0 L656.4,520.1 L658.4,519.2 L660.4,518.3 L662.4,517.3 L664.4,516.4 L666.4,515.5 L668.4,514.5 L670.4,513.6 L672.4,512.6 L674.4,511.6 L676.4,510.6 L678.4,509.6 L680.4,508.7 L682.4,507.7 L684.4,506.7 L686.4,505.7 L688.4,504.7 L690.4,503.7 L692.4,502.7 L694.4,501.7 L696.4,500.7 L698.4,499.7 L700.4,498.7 L702.4,497.7 L704.4,496.7 L706.4,495.7 L708.4,494.7 L710.4,493.8 L712.4,492.8 L714.4,491.9 L716.4,490.9 L718.4,490.0 L720.4,489.1 L722.4,488.1 L724.4,487.2 L726.4,486.4 L728.4,485.5 L730.4,484.6 L732.4,483.8 L734.4,482.9 L736.4,482.1 L738.4,481.3 L740.4,480.5 L742.4,479.8 L744.4,479.0 L746.4,478.3 L748.4,477.5 L750.4,476.8 L752.4,476.1 L754.4,475.5 L756.4,474.8 L758.4,474.2 L760.4,473.6 L762.4,473.0 L764.4,472.4 L766.4,471.9 L768.4,471.3 L770.4,470.8 L772.4,470.3 L774.4,469.9 L776.4,469.4 L778.4,469.0 L780.4,468.6 L782.4,468.2 L784.4,467.9 L786.4,467.5 L788.4,467.2 L790.4,467.0 L792.4,466.7 L794.4,466.5 L796.4,466.3 L798.4,466.1 L800.4,466.0 L802.4,465.9 L804.4,465.8 L806.4,465.7 L807.9,465.7" stroke="#0000ff" stroke-dasharray="8.6 4.8 1.9 4.8"/>
<path d="M70.4,112.6 L72.4,115.1 L74.4,117.6 L76.4,120.1 L78.4,122.6 L80.4,125.0 L82.4,127.5 L84.4,130.0 L86.4,132.4 L88.4,134.9 L90.4,137.3 L92.4,139.7 L94.4,142.1 L96.4,144.5 L98.4,146.9 L100.4,149.3 L102.4,151.7 L104.4,154.1 L106.4,156.5 L108.4,158.8 L110.4,161.2 L112.4,163.5 L114.4,165.8 L116.4,168.1 L118.4,170.4 L120.4,172.7 L122.4,175.0 L124.4,177.3 L126.4,179.5 L128.4,181.8 L130.4,184.0 L132.4,186.2 L134.4,188.4 L136.4,190.6 L138.4,192.8 L140.4,194.9 L142.4,197.1 L144.4,199.2 L146.4,201.3 L148.4,203.4 L150.4,205.5 L152.4,207.6 L154.4,209.6 L156.4,211.7 L158.4,213.7 L160.4,215.7 L162.4,217.7 L164.4,219.7 L166.4,221.6 L168.4,223.6 L170.4,225.6 L172.4,227.5 L174.4,229.5 L176.4,231.4 L178.4,233.4 L180.4,235.3 L182.4,237.3 L184.4,239.2 L186.4,241.2 L188.4,243.2 L190.4,245.3 L192.4,247.3 L194.4,249.3 L196.4,251.4 L198.4,253.5 L200.4,255.5 L202.4,257.6 L204.4,259.7 L206.4,261.9 L208.4,264.0 L210.4,266.1 L212.4,268.2 L214.4,270.4 L216.4,272.5 L218.4,274.7 L220.4,276.8 L222.4,279.0 L224.4,281.2 L226.4,283.3 L228.4,285.5 L230.4,287.7 L232.4,289.8 L234.4,292.0 L236.4,294.1 L238.4,296.3 L240.4,298.4 L242.4,300.6 L244.4,302.7 L246.4,304.8 L248.4,306.9 L250.4,308.9 L252.4,311.0 L254.4,313.0 L256.4,315.0 L258.4,317.0 L260.4,319.0 L262.4,320.9 L264.4,322.8 L266.4,324.7 L268.4,326.6 L270.4,328.4 L272.4,330.3 L274.4,332.2 L276.4,334.1 L278.4,336.1 L280.4,338.0 L282.4,340.0 L284.4,342.0 L286.4,344.1 L288.4,346.1 L290.4,348.2 L292.4,350.3 L294.4,352.4 L296.4,354.5 L298.4,356.7 L300.4,358.8 L302.4,360.9 L304.4,363.0 L306.4,365.2 L308.4,367.3 L310.4,369.4 L312.4,371.5 L314.4,373.6 L316.4,375.7 L318.4,377.8 L320.4,379.9 L322.4,381.9 L324.4,384.0 L326.4,386.1 L328.4,388.1 L330.4,390.1 L332.4,392.2 L334.4,394.2 L336.4,396.2 L338.4,398.2 L340.4,400.1 L342.4,402.1 L344.4,404.0 L346.4,406.0 L348.4,407.9 L350.4,409.8 L352.4,411.7 L354.4,413.6 L356.4,415.4 L358.4,417.3 L360.4,419.1 L362.4,420.9 L364.4,422.7 L366.4,424.5 L368.4,426.2 L370.4,428.0 L372.4,429.7 L374.4,431.4 L376.4,433.1 L378.4,434.8 L380.4,436.4 L382.4,438.0 L384.4,439.7 L386.4,441.3 L388.4,442.8 L390.4,444.4 L392.4,446.0 L394.4,447.5 L396.4,449.0 L398.4,450.5 L400.4,452.0 L402.4,453.4 L404.4,454.9 L406.4,456.3 L408.4,457.7 L410.4,459.0 L412.4,460.4 L414.4,461.8 L416.4,463.1 L418.4,464.4 L420.4,465.7 L422.4,466.9 L424.4,468.2 L426.4,469.4 L428.4,470.6 L430.4,471.8 L432.4,473.0 L434.4,474.1 L436.4,475.2 L438.4,476.4 L440.4,477.4 L442.4,478.5 L444.4,479.6 L446.4,480.6 L448.4,481.6 L450.4,482.6 L452.4,483.6 L454.4,484.5 L456.4,485.4 L458.4,486.4 L460.4,487.2 L462.4,488.1 L464.4,489.0 L466.4,489.8 L468.4,490.6 L470.4,491.4 L472.4,492.1 L474.4,492.9 L476.4,493.6 L478.4,494.3 L480.4,495.0 L482.4,495.6 L484.4,496.3 L486.4,496.9 L488.4,497.5 L490.4,498.1 L492.4,498.6 L494.4,499.2 L496.4,499.7 L498.4,500.1 L500.4,500.6 L502.4,501.1 L504.4,501.5 L506.4,501.9 L508.4,502.3 L510.4,502.6 L512.4,502.9 L514.4,503.3 L516.4,503.5 L518.4,503.8 L520.4,504.0 L522.4,504.3 L524.4,504.5 L526.4,504.6 L528.4,504.8 L530.4,504.9 L532.4,505.0 L534.4,505.1 L536.4,505.2 L538.4,505.2 L540.4,505.2 L542.4,505.2 L544.4,505.2 L546.4,505.1 L548.4,505.1 L550.4,505.0 L552.4,504.8 L554.4,504.7 L556.4,504.5 L558.4,504.3 L560.4,504.1 L562.4,503.8 L564.4,503.6 L566.4,503.3 L568.4,503.0 L570.4,502.6 L572.4,502.3 L574.4,501.9 L576.4,501.5 L578.4,501.0 L580.4,500.6 L582.4,500.1 L584.4,499.6 L586.4,499.0 L588.4,498.5 L590.4,497.9 L592.4,497.3 L594.4,496.6 L596.4,496.0 L598.4,495.3 L600.4,494.6 L602.4,493.8 L604.4,493.1 L606.4,492.3 L608.4,491.5 L610.4,490.7 L612.4,489.8 L614.4,488.9 L616.4,488.0 L618.4,487.1 L620.4,486.1 L622.4,485.1 L624.4,484.1 L626.4,483.1 L628.4,482.1 L630.4,481.0 L632.4,479.9 L634.4,478.8 L636.4,477.7 L638.4,476.6 L640.4,475.4 L642.4,474.3 L644.4,473.1 L646.4,471.9 L648.4,470.7 L650.4,469.5 L652.4,468.2 L654.4,467.0 L656.4,465.7 L658.4,464.5 L660.4,463.2 L662.4,461.9 L664.4,460.6 L666.4,459.3 L668.4,458.0 L670.4,456.7 L672.4,455.4 L674.4,454.0 L676.4,452.7 L678.4,451.4 L680.4,450.0 L682.4,448.7 L684.4,447.3 L686.4,446.0 L688.4,444.6 L690.4,443.3 L692.4,441.9 L694.4,440.6 L696.4,439.2 L698.4,437.9 L700.4,436.5 L702.4,435.2 L704.4,433.9 L706.4,432.5 L708.4,431.2 L710.4,429.9 L712.4,428.6 L714.4,427.3 L716.4,426.0 L718.4,424.7 L720.4,423.4 L722.4,422.1 L724.4,420.9 L726.4,419.6 L728.4,418.4 L730.4,417.2 L732.4,416.0 L734.4,414.9 L736.4,413.7 L738.4,412.6 L740.4,411.5 L742.4,410.4 L744.4,409.4 L746.4,408.4 L748.4,407.4 L750.4,406.4 L752.4,405.5 L754.4,404.6 L756.4,403.8 L758.4,402.9 L760.4,402.1 L762.4,401.4 L764.4,400.7 L766.4,400.0 L768.4,399.4 L770.4,398.8 L772.4,398.2 L774.4,397.7 L776.4,397.2 L778.4,396.8 L780.4,396.3 L782.4,395.9 L784.4,395.6 L786.4,395.2 L788.4,394.9 L790.4,394.5 L792.4,394.2 L794.4,393.9 L796.4,393.6 L798.4,393.3 L800.4,392.9 L802.4,392.6 L804.4,392.3 L806.4,391.9 L807.9,391.6" stroke="#0000ff" stroke-dasharray="8.6 4.8 1.9 4.8"/>
<path d="M69.8,135.6 L71.8,138.6 L73.8,141.5 L75.8,144.5 L77.8,147.4 L79.8,150.3 L81.8,153.1 L83.8,156.0 L85.8,158.9 L87.8,161.7 L89.8,164.5 L91.8,167.3 L93.8,170.1 L95.8,172.8 L97.8,175.6 L99.8,178.3 L101.8,180.9 L103.8,183.6 L105.8,186.2 L107.8,188.9 L109.8,191.5 L111.8,194.0 L113.8,196.5 L115.8,199.1 L117.8,201.5 L119.8,204.0 L121.8,206.4 L123.8,208.8 L125.8,211.1 L127.8,213.5 L129.8,215.7 L131.8,218.0 L133.8,220.2 L135.8,222.4 L137.8,224.5 L139.8,226.6 L141.8,228.7 L143.8,230.7 L145.8,232.7 L147.8,234.7 L149.8,236.6 L151.8,238.5 L153.8,240.3 L155.8,242.1 L157.8,243.9 L159.8,245.6 L161.8,247.3 L163.8,249.0 L165.8,250.6 L167.8,252.3 L169.8,253.8 L171.8,255.4 L173.8,256.9 L175.8,258.5 L177.8,260.0 L179.8,261.4 L181.8,262.9 L183.8,264.4 L185.8,265.8 L187.8,267.2 L189.8,268.6 L191.8,270.0 L193.8,271.4 L195.8,272.8 L197.8,274.1 L199.8,275.5 L201.8,276.8 L203.8,278.2 L205.8,279.5 L207.8,280.9 L209.8,282.2 L211.8,283.6 L213.8,285.0 L215.8,286.3 L217.8,287.7 L219.8,289.1 L221.8,290.5 L223.8,291.9 L225.8,293.3 L227.8,294.7 L229.8,296.1 L231.8,297.6 L233.8,299.1 L235.8,300.5 L237.8,302.0 L239.8,303.6 L241.8,305.1 L243.8,306.6 L245.8,308.2 L247.8,309.7 L249.8,311.3 L251.8,312.9 L253.8,314.5 L255.8,316.1 L257.8,317.7 L259.8,319.4 L261.8,321.0 L263.8,322.7 L265.8,324.3 L267.8,326.0 L269.8,327.7 L271.8,329.3 L273.8,331.0 L275.8,332.7 L277.8,334.4 L279.8,336.2 L281.8,337.9 L283.8,339.6 L285.8,341.3 L287.8,343.1 L289.8,344.8 L291.8,346.5 L293.8,348.3 L295.8,350.0 L297.8,351.8 L299.8,353.6 L301.8,355.3 L303.8,357.1 L305.8,358.9 L307.8,360.6 L309.8,362.4 L311.8,364.2 L313.8,365.9 L315.8,367.7 L317.8,369.5 L319.8,371.2 L321.8,373.0 L323.8,374.8 L325.8,376.5 L327.8,378.3 L329.8,380.1 L331.8,381.8 L333.8,383.6 L335.8,385.3 L337.8,387.1 L339.8,388.8 L341.8,390.6 L343.8,392.3 L345.8,394.0 L347.8,395.7 L349.8,397.5 L351.8,399.2 L353.8,400.9 L355.8,402.6 L357.8,404.2 L359.8,405.9 L361.8,407.6 L363.8,409.3 L365.8,410.9 L367.8,412.6 L369.8,414.2 L371.8,415.8 L373.8,417.4 L375.8,419.0 L377.8,420.6 L379.8,422.2 L381.8,423.8 L383.8,425.3 L385.8,426.9 L387.8,428.4 L389.8,429.9 L391.8,431.4 L393.8,432.9 L395.8,434.4 L397.8,435.9 L399.8,437.3 L401.8,438.7 L403.8,440.2 L405.8,441.6 L407.8,442.9 L409.8,444.3 L411.8,445.7 L413.8,447.0 L415.8,448.3 L417.8,449.6 L419.8,450.9 L421.8,452.1 L423.8,453.4 L425.8,454.6 L427.8,455.8 L429.8,456.9 L431.8,458.1 L433.8,459.2 L435.8,460.3 L437.8,461.4 L439.8,462.5 L441.8,463.5 L443.8,464.6 L445.8,465.6 L447.8,466.5 L449.8,467.5 L451.8,468.4 L453.8,469.3 L455.8,470.2 L457.8,471.0 L459.8,471.9 L461.8,472.7 L463.8,473.4 L465.8,474.2 L467.8,474.9 L469.8,475.6 L471.8,476.3 L473.8,476.9 L475.8,477.5 L477.8,478.1 L479.8,478.7 L481.8,479.2 L483.8,479.8 L485.8,480.3 L487.8,480.7 L489.8,481.2 L491.8,481.6 L493.8,482.0 L495.8,482.3 L497.8,482.7 L499.8,483.0 L501.8,483.3 L503.8,483.5 L505.8,483.8 L507.8,484.0 L509.8,484.2 L511.8,484.3 L513.8,484.5 L515.8,484.6 L517.8,484.7 L519.8,484.7 L521.8,484.8 L523.8,484.8 L525.8,484.8 L527.8,484.7 L529.8,484.6 L531.8,484.5 L533.8,484.4 L535.8,484.3 L537.8,484.1 L539.8,483.9 L541.8,483.7 L543.8,483.4 L545.8,483.2 L547.8,482.9 L549.8,482.5 L551.8,482.2 L553.8,481.8 L555.8,481.4 L557.8,481.0 L559.8,480.5 L561.8,480.0 L563.8,479.5 L565.8,479.0 L567.8,478.4 L569.8,477.9 L571.8,477.3 L573.8,476.6 L575.8,476.0 L577.8,475.3 L579.8,474.6 L581.8,473.8 L583.8,473.1 L585.8,472.3 L587.8,471.5 L589.8,470.6 L591.8,469.8 L593.8,468.9 L595.8,468.0 L597.8,467.0 L599.8,466.0 L601.8,465.0 L603.8,464.0 L605.8,463.0 L607.8,461.9 L609.8,460.8 L611.8,459.7 L613.8,458.5 L615.8,457.4 L617.8,456.2 L619.8,454.9 L621.8,453.7 L623.8,452.4 L625.8,451.1 L627.8,449.8 L629.8,448.4 L631.8,447.0 L633.8,445.6 L635.8,444.2 L637.8,442.7 L639.8,441.3 L641.8,439.7 L643.8,438.2 L645.8,436.6 L647.8,435.1 L649.8,433.4 L651.8,431.8 L653.8,430.1 L655.8,428.4 L657.8,426.7 L659.8,425.0 L661.8,423.2 L663.8,421.4 L665.8,419.6 L667.8,417.8 L669.8,415.9 L671.8,414.0 L673.8,412.1 L675.8,410.2 L677.8,408.2 L679.8,406.3 L681.8,404.3 L683.8,402.3 L685.8,400.3 L687.8,398.3 L689.8,396.3 L691.8,394.3 L693.8,392.3 L695.8,390.3 L697.8,388.3 L699.8,386.4 L701.8,384.4 L703.8,382.4 L705.8,380.4 L707.8,378.5 L709.8,376.5 L711.8,374.6 L713.8,372.7 L715.8,370.8 L717.8,369.0 L719.8,367.1 L721.8,365.3 L723.8,363.5 L725.8,361.7 L727.8,360.0 L729.8,358.3 L731.8,356.7 L733.8,355.0 L735.8,353.4 L737.8,351.9 L739.8,350.4 L741.8,348.9 L743.8,347.5 L745.8,346.1 L747.8,344.8 L749.8,343.5 L751.8,342.3 L753.8,341.1 L755.8,340.0 L757.8,338.8 L759.8,337.8 L761.8,336.7 L763.8,335.7 L765.8,334.8 L767.8,333.8 L769.8,332.9 L771.8,332.1 L773.8,331.2 L775.8,330.4 L777.8,329.7 L779.8,328.9 L781.8,328.2 L783.8,327.5 L785.8,326.8 L787.8,326.2 L789.8,325.6 L791.8,325.0 L793.8,324.4 L795.8,323.8 L797.8,323.3 L799.8,322.8 L801.8,322.3 L803.8,321.8 L805.8,321.3 L807.4,320.9" stroke="#0000ff" stroke-dasharray="8.6 4.8 1.9 4.8"/>
</g>
<g stroke="#000" stroke-width="1.35" fill="none">
<rect x="67.6" y="49.1" width="740.8" height="518.5"/>
<path d="M67.60,567.6v-14.5M67.60,49.1v14.5M98.47,567.6v-7.3M98.47,49.1v7.3M129.33,567.6v-14.5M129.33,49.1v14.5M160.20,567.6v-7.3M160.20,49.1v7.3M191.07,567.6v-14.5M191.07,49.1v14.5M221.93,567.6v-7.3M221.93,49.1v7.3M252.80,567.6v-14.5M252.80,49.1v14.5M283.67,567.6v-7.3M283.67,49.1v7.3M314.53,567.6v-14.5M314.53,49.1v14.5M345.40,567.6v-7.3M345.40,49.1v7.3M376.27,567.6v-14.5M376.27,49.1v14.5M407.13,567.6v-7.3M407.13,49.1v7.3M438.00,567.6v-14.5M438.00,49.1v14.5M468.87,567.6v-7.3M468.87,49.1v7.3M499.73,567.6v-14.5M499.73,49.1v14.5M530.60,567.6v-7.3M530.60,49.1v7.3M561.47,567.6v-14.5M561.47,49.1v14.5M592.33,567.6v-7.3M592.33,49.1v7.3M623.20,567.6v-14.5M623.20,49.1v14.5M654.07,567.6v-7.3M654.07,49.1v7.3M684.93,567.6v-14.5M684.93,49.1v14.5M715.80,567.6v-7.3M715.80,49.1v7.3M746.67,567.6v-14.5M746.67,49.1v14.5M777.53,567.6v-7.3M777.53,49.1v7.3M808.40,567.6v-14.5M808.40,49.1v14.5M67.6,49.10h14.5M808.4,49.10h-14.5M67.6,221.93h14.5M808.4,221.93h-14.5M67.6,169.91h7.3M808.4,169.91h-7.3M67.6,139.47h7.3M808.4,139.47h-7.3M67.6,117.88h7.3M808.4,117.88h-7.3M67.6,101.13h7.3M808.4,101.13h-7.3M67.6,87.44h7.3M808.4,87.44h-7.3M67.6,75.87h7.3M808.4,75.87h-7.3M67.6,65.85h7.3M808.4,65.85h-7.3M67.6,57.01h7.3M808.4,57.01h-7.3M67.6,394.77h14.5M808.4,394.77h-14.5M67.6,342.74h7.3M808.4,342.74h-7.3M67.6,312.30h7.3M808.4,312.30h-7.3M67.6,290.71h7.3M808.4,290.71h-7.3M67.6,273.96h7.3M808.4,273.96h-7.3M67.6,260.28h7.3M808.4,260.28h-7.3M67.6,248.71h7.3M808.4,248.71h-7.3M67.6,238.68h7.3M808.4,238.68h-7.3M67.6,229.84h7.3M808.4,229.84h-7.3M67.6,567.60h14.5M808.4,567.60h-14.5M67.6,515.57h7.3M808.4,515.57h-7.3M67.6,485.14h7.3M808.4,485.14h-7.3M67.6,463.54h7.3M808.4,463.54h-7.3M67.6,446.79h7.3M808.4,446.79h-7.3M67.6,433.11h7.3M808.4,433.11h-7.3M67.6,421.54h7.3M808.4,421.54h-7.3M67.6,411.52h7.3M808.4,411.52h-7.3M67.6,402.68h7.3M808.4,402.68h-7.3"/>
</g>
<g font-size="20.5" text-anchor="middle">
<text x="67.6" y="589.5">1700</text>
<text x="129.3" y="589.5">1800</text>
<text x="191.1" y="589.5">1900</text>
<text x="252.8" y="589.5">2000</text>
<text x="314.5" y="589.5">2100</text>
<text x="376.3" y="589.5">2200</text>
<text x="438.0" y="589.5">2300</text>
<text x="499.7" y="589.5">2400</text>
<text x="561.5" y="589.5">2500</text>
<text x="623.2" y="589.5">2600</text>
<text x="684.9" y="589.5">2700</text>
<text x="746.7" y="589.5">2800</text>
<text x="808.4" y="589.5">2900</text>
</g>
<text x="53.1" y="60.1" font-size="20.5" text-anchor="end">10</text>
<text x="52.7" y="48.1" font-size="15" letter-spacing="-1">0</text>
<text x="49.2" y="232.9" font-size="20.5" text-anchor="end">10</text>
<text x="49.7" y="220.9" font-size="15" letter-spacing="-1">-1</text>
<text x="49.2" y="405.8" font-size="20.5" text-anchor="end">10</text>
<text x="49.7" y="393.8" font-size="15" letter-spacing="-1">-2</text>
<text x="49.2" y="578.6" font-size="20.5" text-anchor="end">10</text>
<text x="49.7" y="566.6" font-size="15" letter-spacing="-1">-3</text>
<text class="i" x="438" y="606.5" font-size="22" text-anchor="middle">z</text>
<text transform="translate(17.8,308.6) rotate(-90)" font-size="22.4" text-anchor="middle">Escape probability</text>
<text x="439.6" y="26.6" font-size="23" text-anchor="middle"><tspan class="i">n</tspan><tspan font-size="16.3" dy="-13.5" dx="1">1</tspan><tspan dy="13.5" dx="-0.8">D</tspan><tspan font-size="16.3" dy="9.2">2</tspan><tspan dy="-9.2"> - 1</tspan><tspan font-size="16.3" dy="-13.5">1</tspan><tspan dy="13.5">S</tspan><tspan font-size="16.3" dy="9.2">0</tspan><tspan dy="-9.2"> quadrupole lines</tspan></text>
<text x="239.5" y="103.8" font-size="20.75">difference caused by</text>
<text x="239.5" y="125.3" font-size="20.75">HI continuum absorption</text>
<text transform="translate(772.6,180.4) rotate(-90)" font-size="19.9" text-anchor="middle">suppression by feedback</text>
<text x="703.4" y="330.7" font-size="19.6"><tspan class="i">n</tspan> = 3</text>
<text x="756" y="363.9" font-size="19.6"><tspan class="i">n</tspan> = 4</text>
<text x="758.7" y="453.2" font-size="19.6"><tspan class="i">n</tspan> = 5</text>
<path d="M233.1,116.1L140.6,145.8" stroke="#000" stroke-width="1.5" fill="none"/><path d="M133.3,148.2L144.4,141.3L140.6,145.8L146.4,147.4Z" fill="#000" stroke="#000" stroke-width="0.5" stroke-linejoin="miter"/>
<path d="M782.4,70.4L782.4,288.9" stroke="#000" stroke-width="1.5" fill="none"/><path d="M782.4,296.6L779.2,283.9L782.4,288.9L785.6,283.9Z" fill="#000" stroke="#000" stroke-width="0.5" stroke-linejoin="miter"/>
<path d="M755.1,442.8L734.9,439.8" stroke="#000" stroke-width="1.5" fill="none"/><path d="M727.3,438.7L740.3,437.4L734.9,439.8L739.4,443.7Z" fill="#000" stroke="#000" stroke-width="0.5" stroke-linejoin="miter"/>
<path d="M755.8,453.6L735.9,474.4" stroke="#000" stroke-width="1.5" fill="none"/><path d="M730.6,480.0L737.1,468.6L735.9,474.4L741.7,473.0Z" fill="#000" stroke="#000" stroke-width="0.5" stroke-linejoin="miter"/>
<g fill="none" stroke-width="1.9">
<path d="M105.2,473.2H179.7" stroke="#ff0000" stroke-dasharray="8.6 4.8"/>
<path d="M105.2,497.4H179.7" stroke="#000"/>
<path d="M105.2,519.2H179.7" stroke="#0000ff" stroke-dasharray="8.6 4.8 1.9 4.8" stroke-dashoffset="13.4"/>
</g>
<text x="195" y="477.7" font-size="20.75">Sobolev approximation</text>
<text x="195" y="504.5" font-size="20.75">CS2010</text>
<text x="195" y="526.6" font-size="20.75">radiative transfer</text>
</svg></body></html>
